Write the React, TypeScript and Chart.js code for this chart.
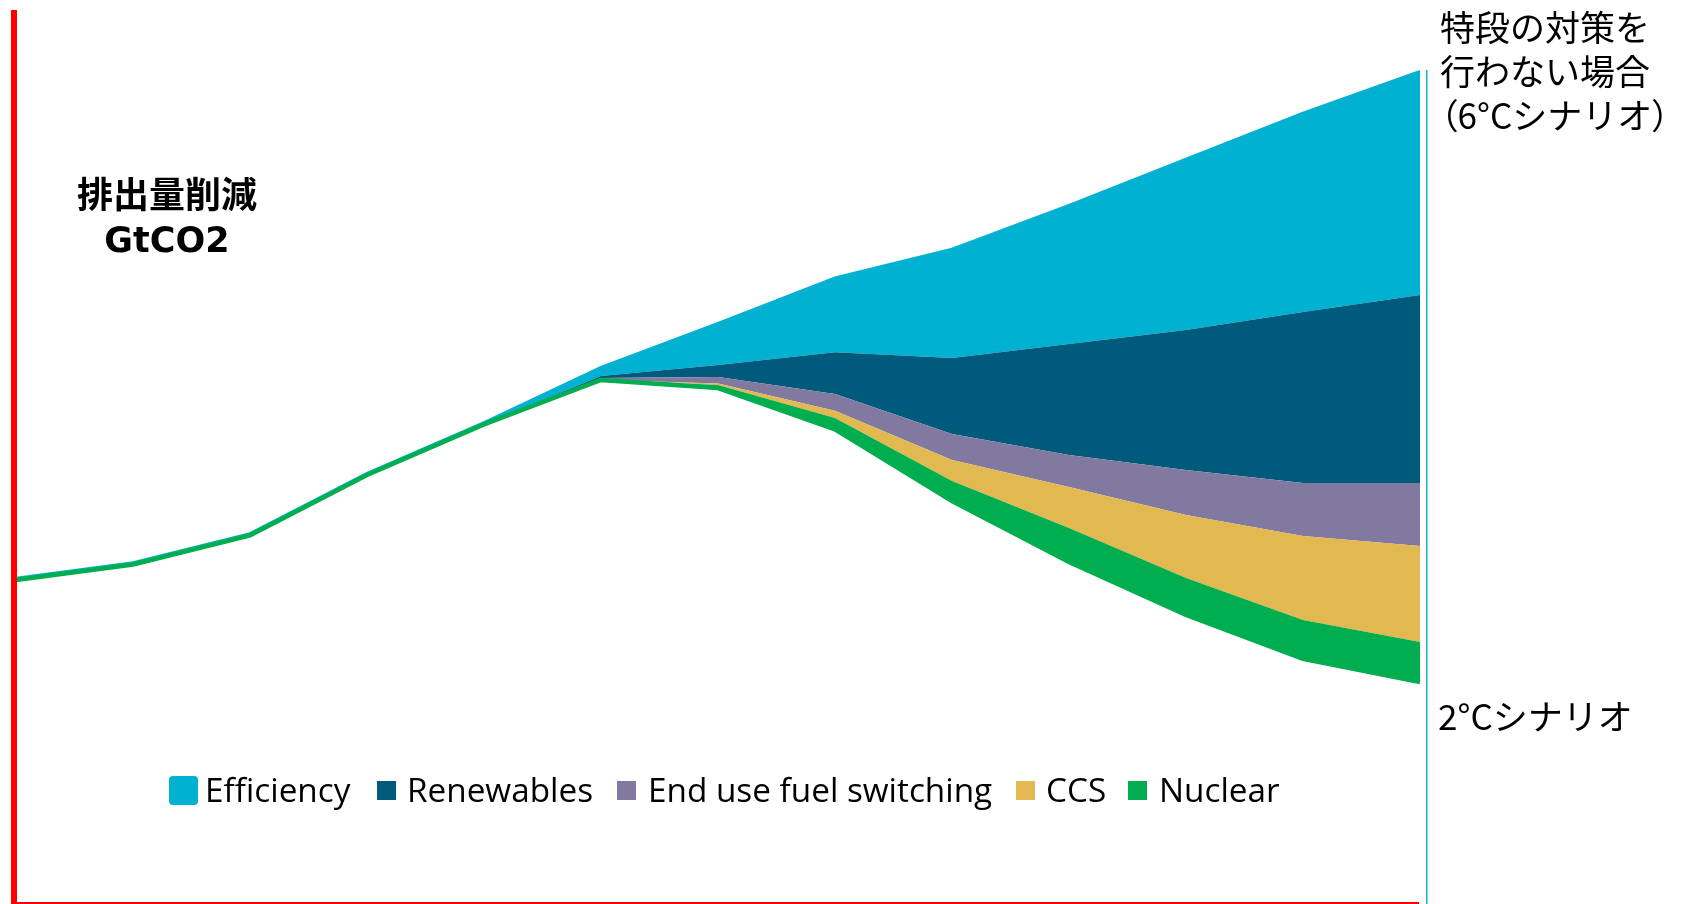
import React, { useEffect, useRef } from "react";
import { Chart, registerables } from "chart.js";

Chart.register(...registerables);

// Years (hidden category axis)
const years = ["1990", "1995", "2000", "2005", "2010", "2015", "2020", "2025", "2030", "2035", "2040", "2045", "2050"];
// 2°C scenario emissions (GtCO2) – the base of the stack
const scenario2DS = [21.53, 22.57, 24.51, 28.53, 31.91, 34.87, 34.33, 31.57, 26.8, 22.73, 19.2, 16.27, 14.73];
// Emission reductions by measure (GtCO2), stacked on top of the 2°C line
const nuclear = [0, 0, 0, 0, 0, 0, 0.2, 0.77, 1.33, 2.27, 2.47, 2.6, 2.67];
const ccs = [0, 0, 0, 0, 0, 0, 0.1, 0.47, 1.4, 2.73, 4.2, 5.6, 6.4];
const endUseFuelSwitching = [0, 0, 0, 0, 0, 0.13, 0.43, 1.13, 1.73, 2.13, 3.0, 3.53, 4.2];
const renewables = [0, 0, 0, 0, 0, 0.13, 0.8, 2.77, 5.07, 7.4, 9.33, 11.4, 12.53];
const efficiency = [0.13, 0.13, 0.13, 0.13, 0.13, 0.6, 2.8, 4.97, 7.27, 9.27, 11.4, 13.27, 14.93];

const legendLabels = ["Efficiency", "Renewables", "End use fuel switching", "CCS", "Nuclear"];
const yMin = 0;
const yMax = 60;

const COLORS = {
  efficiency: "#00b1d2",
  renewables: "#005a7c",
  endUse: "#8179a0",
  ccs: "#e2b851",
  nuclear: "#00ad4f",
};

const axesPlugin = {
  id: "customAxes",
  afterDraw(chart: any) {
    const ctx = chart.ctx;
    ctx.save();
    ctx.fillStyle = "#ff0000";
    ctx.fillRect(11, 10, 6, 894);
    ctx.fillRect(11, 902, 1408, 2);
    ctx.fillStyle = "#14b4c8";
    ctx.fillRect(1426, 70, 1.5, 834);
    ctx.restore();
  },
};

export default function App() {
  const canvasRef = useRef<HTMLCanvasElement | null>(null);

  useEffect(() => {
    const canvas = canvasRef.current;
    if (!canvas) return;
    const area = (label: string, data: number[], color: string, extra: any = {}) => ({
      label,
      data,
      backgroundColor: color,
      borderColor: "rgba(0,0,0,0)",
      borderWidth: 0,
      pointRadius: 0,
      fill: "-1",
      tension: 0,
      ...extra,
    });
    const chart = new Chart(canvas, {
      type: "line",
      data: {
        labels: years,
        datasets: [
          {
            label: "2DS",
            data: scenario2DS,
            borderColor: COLORS.nuclear,
            borderWidth: 4.5,
            pointRadius: 0,
            fill: false,
            tension: 0,
          },
          area("Nuclear", nuclear, COLORS.nuclear),
          area("CCS", ccs, COLORS.ccs),
          area("End use fuel switching", endUseFuelSwitching, COLORS.endUse),
          area("Renewables", renewables, COLORS.renewables),
          area("Efficiency", efficiency, COLORS.efficiency, { borderColor: COLORS.efficiency, borderWidth: 2.5 }),
        ],
      },
      options: {
        animation: false,
        responsive: false,
        devicePixelRatio: 1,
        layout: { padding: { left: 16, right: 269, top: 3, bottom: 1 } },
        plugins: { legend: { display: false }, tooltip: { enabled: false } },
        scales: {
          x: { display: false, offset: false },
          y: { display: false, stacked: true, min: yMin, max: yMax },
        },
      },
      plugins: [axesPlugin],
    });
    return () => chart.destroy();
  }, []);

  const legendColors = [COLORS.efficiency, COLORS.renewables, COLORS.endUse, COLORS.ccs, COLORS.nuclear];
  const legendBoxX = [169, 377, 617, 1016, 1128];
  const legendTextX = [205, 407, 648, 1046, 1159];

  const cjk = '"Noto Sans CJK JP", "Noto Sans", sans-serif';

  return (
    <div style={{ position: "fixed", left: 0, top: 0, width: 1689, height: 904, background: "#fff", overflow: "hidden" }}>
      <canvas ref={canvasRef} width={1689} height={904} style={{ position: "absolute", left: 0, top: 0, width: 1689, height: 904 }} />
      {/* left label */}
      <div style={{ position: "absolute", left: 17, top: 170, width: 300, textAlign: "center", fontFamily: cjk, fontWeight: 700, fontSize: 36, lineHeight: "44px", color: "#000" }}>
        排出量削減
      </div>
      <div style={{ position: "absolute", left: 17, top: 218, width: 300, textAlign: "center", fontFamily: '"DejaVu Sans", sans-serif', fontWeight: 700, fontSize: 35, lineHeight: "44px", color: "#000" }}>
        GtCO2
      </div>
      {/* right labels */}
      <div style={{ position: "absolute", left: 1440, top: 4, fontFamily: cjk, fontSize: 35, lineHeight: "44px", color: "#000", whiteSpace: "nowrap" }}>
        <div>特段の対策を</div>
        <div>行わない場合</div>
        <div>
          <span style={{ fontFeatureSettings: '"palt"' }}>（</span>6°Cシナリオ<span style={{ fontFeatureSettings: '"palt"' }}>）</span>
        </div>
      </div>
      <div style={{ position: "absolute", left: 1438, top: 693, fontFamily: cjk, fontSize: 35, lineHeight: "44px", color: "#000", whiteSpace: "nowrap" }}>
        2°Cシナリオ
      </div>
      {/* legend */}
      {legendLabels.map((lab, i) => (
        <React.Fragment key={lab}>
          <div
            style={{
              position: "absolute",
              left: legendBoxX[i],
              top: i === 0 ? 776 : 781,
              width: i === 0 ? 29 : 19,
              height: i === 0 ? 29 : 19,
              borderRadius: i === 0 ? 4 : 0,
              background: legendColors[i],
            }}
          />
          <div
            style={{
              position: "absolute",
              left: legendTextX[i],
              top: 766,
              fontFamily: '"Open Sans", sans-serif',
              fontSize: 33.3,
              lineHeight: "46px",
              color: "#000",
              whiteSpace: "nowrap",
            }}
          >
            {lab}
          </div>
        </React.Fragment>
      ))}
    </div>
  );
}
